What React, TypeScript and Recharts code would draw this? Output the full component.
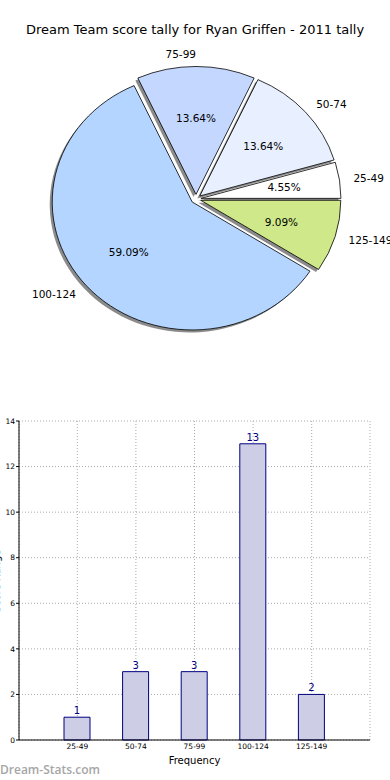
import React from 'react';
import {
  PieChart,
  Pie,
  Cell,
  BarChart,
  Bar,
  XAxis,
  YAxis,
  CartesianGrid,
  LabelList,
  Label,
} from 'recharts';

const categories = ['25-49', '50-74', '75-99', '100-124', '125-149'];
const counts = [1, 3, 3, 13, 2];
const sliceColors = ['#ffffff', '#e8f0ff', '#c4d8ff', '#b3d5ff', '#cfe98a'];
const yTicks = [0, 2, 4, 6, 8, 10, 12, 14];

const FONT = '"DejaVu Sans", Verdana, sans-serif';
const SQUASH = 0.914; // matplotlib pie is drawn slightly flattened
const EXPLODE = 5;
const RAD = Math.PI / 180;

const data = categories.map((name, i) => ({ name, value: counts[i] }));

function wedgePath(cx: number, cy: number, r: number, start: number, end: number) {
  const ry = r * SQUASH;
  const x1 = cx + r * Math.cos(start * RAD);
  const y1 = cy - ry * Math.sin(start * RAD);
  const x2 = cx + r * Math.cos(end * RAD);
  const y2 = cy - ry * Math.sin(end * RAD);
  const large = end - start > 180 ? 1 : 0;
  return `M${cx},${cy} L${x1},${y1} A${r},${ry} 0 ${large} 0 ${x2},${y2} Z`;
}

function shifted(p: any) {
  const mid = p.midAngle * RAD;
  return {
    x: p.cx + EXPLODE * Math.cos(mid),
    y: p.cy - EXPLODE * SQUASH * Math.sin(mid),
  };
}

function ShadowWedge(p: any) {
  const c = shifted(p);
  return (
    <path
      d={wedgePath(c.x - 2.5, c.y + 2.5, p.outerRadius, p.startAngle, p.endAngle)}
      fill="#6e6e6e"
      fillOpacity={0.8}
      stroke="none"
    />
  );
}

function Wedge(p: any) {
  const c = shifted(p);
  return (
    <path
      d={wedgePath(c.x, c.y, p.outerRadius, p.startAngle, p.endAngle)}
      fill={p.fill}
      stroke="#000"
      strokeWidth={0.8}
    />
  );
}

function PieLabel(p: any) {
  const c = shifted(p);
  const mid = p.midAngle * RAD;
  const r = p.outerRadius;
  const cos = Math.cos(mid);
  const sin = Math.sin(mid);
  const lx = c.x + 1.1 * r * cos;
  const ly = c.y - 1.1 * r * SQUASH * sin;
  const px = c.x + 0.6 * r * cos;
  const py = c.y - 0.6 * r * SQUASH * sin;
  return (
    <g fontFamily={FONT} fontSize={10.5} fill="#000">
      <text x={lx} y={ly} textAnchor={cos > 1e-9 ? 'start' : 'end'} dominantBaseline="central">
        {p.name}
      </text>
      <text x={px} y={py} textAnchor="middle" dominantBaseline="central">
        {(p.percent * 100).toFixed(2)}%
      </text>
    </g>
  );
}

export default function App() {
  return (
    <div
      style={{
        position: 'absolute',
        left: 0,
        top: 0,
        width: 390,
        height: 780,
        background: '#fff',
        overflow: 'hidden',
        fontFamily: FONT,
      }}
    >
      <div
        style={{
          position: 'absolute',
          top: 22,
          left: 0,
          width: 390,
          textAlign: 'center',
          fontSize: 13,
          lineHeight: '16px',
          color: '#000',
        }}
      >
        Dream Team score tally for Ryan Griffen - 2011 tally
      </div>

      <div style={{ position: 'absolute', left: 0, top: 0 }}>
        <PieChart width={390} height={400} margin={{ top: 0, right: 0, bottom: 0, left: 0 }}>
          <Pie
            data={data}
            dataKey="value"
            nameKey="name"
            cx={196}
            cy={199}
            outerRadius={140}
            startAngle={0}
            endAngle={360}
            stroke="none"
            shape={ShadowWedge}
            isAnimationActive={false}
          />
          <Pie
            data={data}
            dataKey="value"
            nameKey="name"
            cx={196}
            cy={199}
            outerRadius={140}
            startAngle={0}
            endAngle={360}
            shape={Wedge}
            label={PieLabel}
            labelLine={false}
            isAnimationActive={false}
          >
            {data.map((d, i) => (
              <Cell key={d.name} fill={sliceColors[i]} />
            ))}
          </Pie>
        </PieChart>
      </div>

      <div style={{ position: 'absolute', left: 0, top: 400 }}>
        <BarChart width={390} height={380} data={data} margin={{ top: 21, right: 20, bottom: 10, left: 0 }}>
          <CartesianGrid strokeDasharray="1 2" stroke="#aaa" />
          <XAxis
            dataKey="name"
            padding={{ left: 29, right: 29 }}
            height={30}
            tickSize={2}
            tickMargin={2}
            tickLine={false}
            axisLine={{ stroke: '#000' }}
            tick={{ fontSize: 7.5, fill: '#000', fontFamily: FONT }}
            interval={0}
          >
            <Label value="Frequency" position="insideBottom" offset={6} style={{ fontSize: 10, fill: '#000', fontFamily: FONT }} />
          </XAxis>
          <XAxis xAxisId="top" dataKey="name" orientation="top" height={0} tick={false} tickLine={false} axisLine={{ stroke: '#000' }} />
          <YAxis
            domain={[0, 14]}
            ticks={yTicks}
            width={19}
            tickSize={3}
            tickMargin={1}
            axisLine={{ stroke: '#000' }}
            tickLine={{ stroke: '#000' }}
            tick={{ fontSize: 7.5, fill: '#000', fontFamily: FONT }}
          />
          <YAxis yAxisId="right" orientation="right" domain={[0, 14]} width={0} tick={false} tickLine={false} axisLine={{ stroke: '#000' }} />
          <Bar dataKey="value" fill="#cdcde6" stroke="#000080" strokeWidth={1} barSize={26} isAnimationActive={false}>
            <LabelList dataKey="value" position="top" offset={3} fill="#000080" fontSize={10} fontFamily={FONT} />
          </Bar>
        </BarChart>
      </div>

      <div
        style={{
          position: 'absolute',
          left: -43,
          top: 575,
          width: 80,
          textAlign: 'center',
          fontSize: 10,
          lineHeight: '12px',
          transform: 'rotate(-90deg)',
          color: '#000',
        }}
      >
        Score Range
      </div>

      <div
        style={{
          position: 'absolute',
          left: 0,
          top: 763,
          fontSize: 12,
          fontWeight: 600,
          fontFamily: '"Open Sans", sans-serif',
          color: '#a6a6a6',
          lineHeight: '14px',
        }}
      >
        Dream-Stats.com
      </div>
    </div>
  );
}
